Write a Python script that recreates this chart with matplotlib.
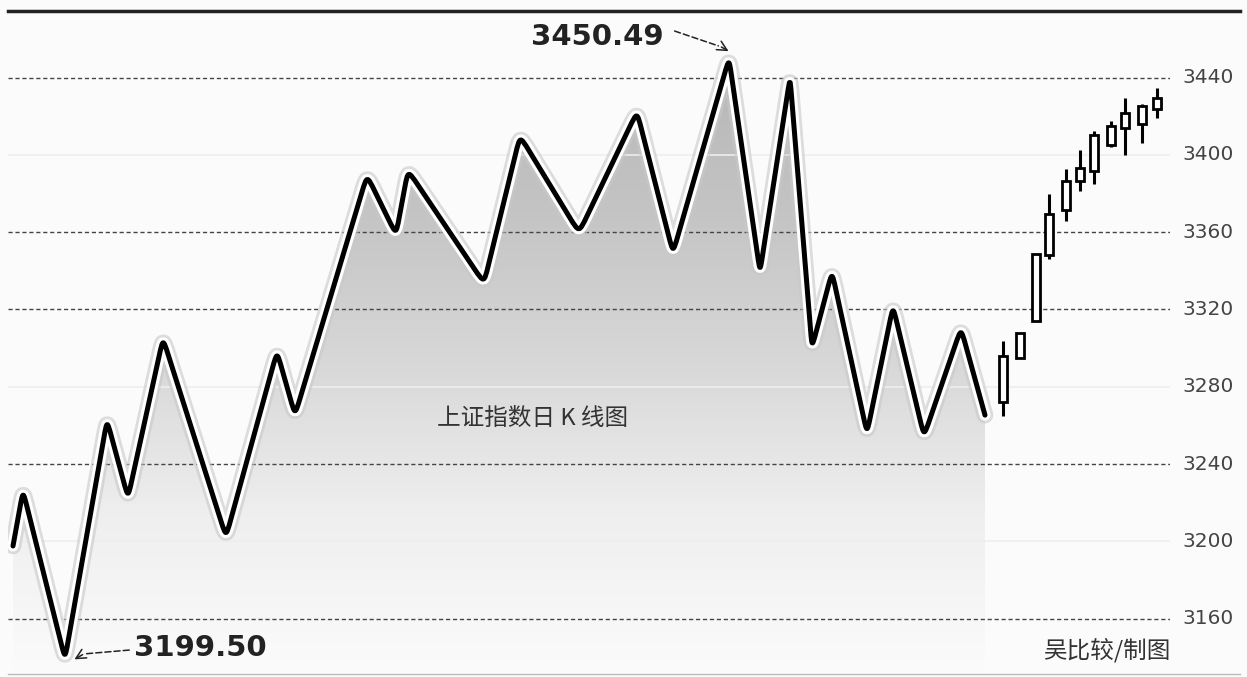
import matplotlib
matplotlib.use('Agg')
import matplotlib.pyplot as plt
import matplotlib.patheffects as pe
from matplotlib.path import Path
from matplotlib.patches import PathPatch, Rectangle
from matplotlib.colors import LinearSegmentedColormap
import numpy as np

plt.rcParams['font.family'] = ['Liberation Sans', 'DejaVu Sans']

# 上证指数 走势 (turning points of the drawn line)
line_t = [5, 15, 57, 99, 120, 155, 218, 269, 287, 359, 388, 400, 476, 512,
          571, 629, 665, 721, 752, 782, 804, 824, 859, 885, 916, 953, 977]
line_v = [3197.6, 3226.2, 3139.2, 3262.7, 3222.6, 3305.0, 3202.3, 3298.2,
          3265.3, 3389.4, 3358.7, 3392.0, 3333.6, 3409.8, 3359.7, 3422.3,
          3349.3, 3449.9, 3339.4, 3440.0, 3300.3, 3339.4, 3256.0, 3321.6,
          3254.4, 3310.2, 3265.3]

# K 线 (all hollow / up candles)
k_t = [995, 1012, 1028, 1041, 1058, 1072, 1086, 1103, 1117, 1134, 1149]
k_open = [3272.1, 3295.1, 3313.8, 3348.2, 3371.2, 3386.3, 3391.5, 3405.1, 3413.9, 3416.0, 3423.8]
k_close = [3296.1, 3307.6, 3348.8, 3369.6, 3386.3, 3393.1, 3410.3, 3415.0, 3421.8, 3425.4, 3429.6]
k_high = [3303.9, 3307.6, 3348.8, 3379.5, 3392.6, 3402.5, 3412.4, 3417.6, 3429.6, 3426.4, 3434.8]
k_low = [3264.8, 3295.1, 3313.8, 3346.2, 3366.0, 3381.1, 3384.7, 3404.0, 3399.9, 3406.1, 3419.1]

dashed_ticks = [3440, 3360, 3320, 3240, 3160]
faint_ticks = [3400, 3280, 3200]
tick_labels = [3440, 3400, 3360, 3320, 3280, 3240, 3200, 3160]

high_label, high_t, high_v = '3450.49', 721, 3449.9
low_label, low_t, low_v = '3199.50', 57, 3139.2

W, H = 1247, 677
fig = plt.figure(figsize=(W / 100, H / 100), dpi=100)
fig.patch.set_facecolor('#fbfbfb')

# axes: pixel 8..1170 horizontally, 10..672 vertically
ax = fig.add_axes([8 / W, 5 / H, 1162 / W, 662 / H])
ax.set_xlim(0, 1162)
px = 1.918  # pixels per index point
ax.set_ylim(3440 - 590 / px, 3440 + 67 / px)
ax.axis('off')
ax.set_facecolor('none')


def rounded_path(ts, vs, r=18.0):
    # rounded corners (cubic bezier with both handles on the turning point), in pixel space
    P = np.column_stack([ts, np.array(vs) * px])
    verts = [P[0]]
    codes = [Path.MOVETO]
    for i in range(1, len(P) - 1):
        d1 = P[i - 1] - P[i]
        d2 = P[i + 1] - P[i]
        a = P[i] + d1 / np.linalg.norm(d1) * min(r, np.linalg.norm(d1) / 2)
        b = P[i] + d2 / np.linalg.norm(d2) * min(r, np.linalg.norm(d2) / 2)
        verts += [a, P[i], P[i], b]
        codes += [Path.LINETO, Path.CURVE4, Path.CURVE4, Path.CURVE4]
    verts.append(P[-1])
    codes.append(Path.LINETO)
    verts = np.array(verts)
    verts[:, 1] = verts[:, 1] / px
    return verts, codes


verts, codes = rounded_path(line_t, line_v)
ymin = ax.get_ylim()[0]

# gradient fill under the line
fill_verts = np.vstack([verts, [[line_t[-1], ymin], [line_t[0], ymin], verts[0]]])
fill_codes = codes + [Path.LINETO, Path.LINETO, Path.CLOSEPOLY]
fill_patch = PathPatch(Path(fill_verts, fill_codes), facecolor='none', edgecolor='none')
ax.add_patch(fill_patch)
cmap = LinearSegmentedColormap.from_list('g', ['#fbfbfb', '#efefef', '#d8d8d8', '#c4c4c4', '#b6b6b6'])
grad = np.linspace(0, 1, 256).reshape(-1, 1)
im = ax.imshow(grad, cmap=cmap, origin='lower', aspect='auto',
               extent=[line_t[0], line_t[-1], ymin, 3450], zorder=1)
im.set_clip_path(fill_patch)

# grid lines
for v in dashed_ticks:
    ax.axhline(v, color='#444444', lw=1.0, ls=(0, (3, 2)), zorder=2)
for v in faint_ticks:
    ax.axhline(v, color='#eeeeee', lw=1.2, zorder=2)

# main line with white halo and soft shadow
line_patch = PathPatch(Path(verts, codes), facecolor='none', edgecolor='black',
                       lw=3.6, capstyle='round', joinstyle='round', zorder=4)
line_patch.set_path_effects([
    pe.Stroke(linewidth=12, foreground='#c8c8c8', alpha=0.6),
    pe.Stroke(linewidth=8, foreground='white'),
    pe.Normal()])
ax.add_patch(line_patch)

# candlesticks
bw = 8
for t, o, c, hi, lo in zip(k_t, k_open, k_close, k_high, k_low):
    ax.vlines(t, lo, hi, color='black', lw=2.2, zorder=5)
    ax.add_patch(Rectangle((t - bw / 2, o), bw, c - o, facecolor='white',
                           edgecolor='black', lw=2.0, zorder=6))

# right-side labels
for v in tick_labels:
    ax.text(1174, v, str(v), ha='left', va='center', fontsize=14.5,
            color='#444444', family='DejaVu Sans', clip_on=False)

# extreme value annotations
ax.text(589, 3440 + 40 / px, high_label, ha='center', va='center', fontsize=21,
        fontweight='bold', color='#222222', family='DejaVu Sans')
ax.text(192, 3440 - 566 / px, low_label, ha='center', va='center', fontsize=21,
        fontweight='bold', color='#222222', family='DejaVu Sans')

arrow_kw = dict(color='#222222', lw=1.1)
# high arrow: dashed shaft + solid head
ax.annotate('', xy=(high_t - 8, high_v + 6), xytext=(664, 3440 + 47 / px),
            arrowprops=dict(arrowstyle='-', ls=(0, (4, 2)), **arrow_kw))
ax.annotate('', xy=(high_t + 2, high_v + 3), xytext=(high_t - 10, high_v + 6.6),
            arrowprops=dict(arrowstyle='->,head_length=0.7,head_width=0.35', **arrow_kw))
# low arrow
ax.annotate('', xy=(low_t + 18, low_v + 2.5), xytext=(124, 3440 - 568 / px),
            arrowprops=dict(arrowstyle='-', ls=(0, (4, 2)), **arrow_kw))
ax.annotate('', xy=(low_t + 7, low_v - 1), xytext=(low_t + 20, low_v + 2.9),
            arrowprops=dict(arrowstyle='->,head_length=0.7,head_width=0.35', **arrow_kw))

# titles
cjk = ['Noto Sans CJK SC', 'DejaVu Sans']
ax.text(525, 3440 - 338 / px, '上证指数日 K 线图', ha='center', va='center',
        fontsize=17, color='#333333', family=cjk)
ax.text(1099, 3440 - 568 / px, '吴比较/制图', ha='center', va='center',
        fontsize=17, color='#333333', family=cjk)

# frame lines
fig.add_artist(plt.Line2D([8 / W, 1240 / W], [1 - 11 / H, 1 - 11 / H], color='#222222', lw=2.5))
fig.add_artist(plt.Line2D([8 / W, 1240 / W], [1 - 674 / H, 1 - 674 / H], color='#bbbbbb', lw=1.0))

fig.savefig('out.png', dpi=100, facecolor=fig.get_facecolor())
